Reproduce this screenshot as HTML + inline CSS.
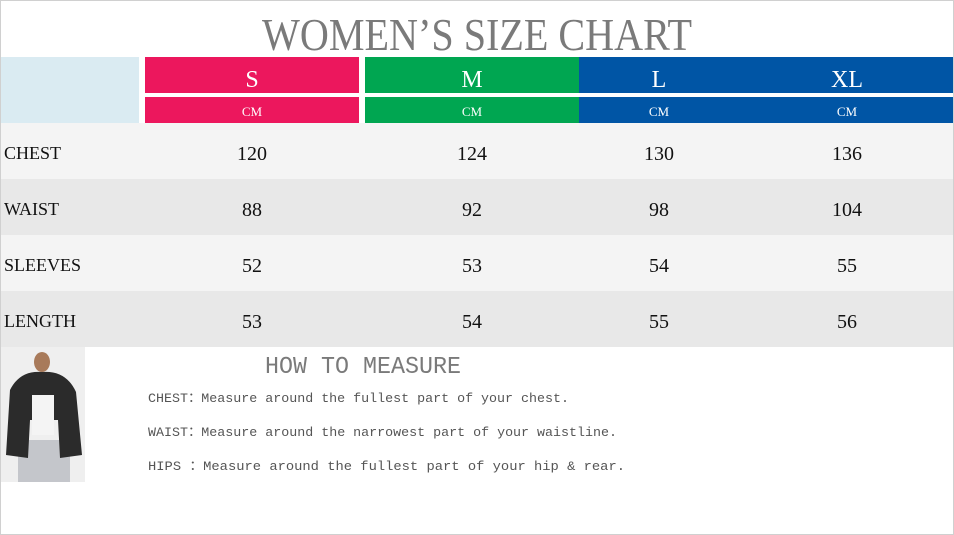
<!DOCTYPE html>
<html><head><style>
html,body{margin:0;padding:0;background:#fff;}
svg{display:block;font-family:"Liberation Serif",serif;}
.m text, text.m{font-family:"Liberation Mono",monospace;}
</style></head><body>
<svg width="954" height="535" viewBox="0 0 954 535" xmlns="http://www.w3.org/2000/svg">
<rect x="0.5" y="0.5" width="953" height="534" fill="#fff" stroke="#d0d0d0"/>
<text x="262" y="50" font-size="46" fill="#7a7a7a" textLength="430" lengthAdjust="spacingAndGlyphs">WOMEN’S SIZE CHART</text>
<rect x="1" y="57" width="138" height="66" fill="#daebf2"/>
<rect x="145" y="57" width="214" height="36" fill="#ec175d"/>
<rect x="145" y="97" width="214" height="26" fill="#ec175d"/>
<rect x="365" y="57" width="214" height="36" fill="#00a651"/>
<rect x="365" y="97" width="214" height="26" fill="#00a651"/>
<rect x="579" y="57" width="374" height="36" fill="#0055a5"/>
<rect x="579" y="97" width="374" height="26" fill="#0055a5"/>
<g fill="#fff" font-size="24" text-anchor="middle">
<text x="252" y="87">S</text><text x="472" y="87">M</text><text x="659" y="87">L</text><text x="847" y="87">XL</text>
</g>
<g fill="#fff" font-size="13" text-anchor="middle">
<text x="252" y="116">CM</text><text x="472" y="116">CM</text><text x="659" y="116">CM</text><text x="847" y="116">CM</text>
</g>
<rect x="1" y="123" width="952" height="56" fill="#f4f4f4"/>
<rect x="1" y="179" width="952" height="56" fill="#e8e8e8"/>
<rect x="1" y="235" width="952" height="56" fill="#f4f4f4"/>
<rect x="1" y="291" width="952" height="56" fill="#e8e8e8"/>
<g fill="#111" font-size="18">
<text x="4" y="159">CHEST</text><text x="4" y="215">WAIST</text><text x="4" y="271">SLEEVES</text><text x="4" y="327">LENGTH</text>
</g>
<g fill="#111" font-size="20" text-anchor="middle">
<text x="252" y="160">120</text><text x="472" y="160">124</text><text x="659" y="160">130</text><text x="847" y="160">136</text>
<text x="252" y="216">88</text><text x="472" y="216">92</text><text x="659" y="216">98</text><text x="847" y="216">104</text>
<text x="252" y="272">52</text><text x="472" y="272">53</text><text x="659" y="272">54</text><text x="847" y="272">55</text>
<text x="252" y="328">53</text><text x="472" y="328">54</text><text x="659" y="328">55</text><text x="847" y="328">56</text>
</g>
<rect x="1" y="347" width="84" height="135" fill="#efefef"/>
<rect x="18" y="440" width="52" height="42" fill="#c4c6cb"/>
<path d="M10 390 Q20 370 42 372 Q66 370 76 392 L82 455 L60 458 L58 420 L30 420 L28 458 L6 455 Z" fill="#2b2b2b"/>
<rect x="32" y="395" width="22" height="40" fill="#f4f4f4"/>
<ellipse cx="42" cy="362" rx="8" ry="10" fill="#a87a5a"/>
<text x="265" y="373" font-size="24" fill="#7a7a7a" class="m" textLength="196" lengthAdjust="spacingAndGlyphs">HOW TO MEASURE</text>
<g fill="#555" font-size="13" class="m">
<text x="148" y="402" textLength="421" lengthAdjust="spacingAndGlyphs">CHEST：Measure around the fullest part of your chest.</text>
<text x="148" y="436" textLength="469" lengthAdjust="spacingAndGlyphs">WAIST：Measure around the narrowest part of your waistline.</text>
<text x="148" y="470" textLength="477" lengthAdjust="spacingAndGlyphs">HIPS   ：Measure around the fullest part of your hip &amp; rear.</text>
</g>
</svg>
</body></html>
